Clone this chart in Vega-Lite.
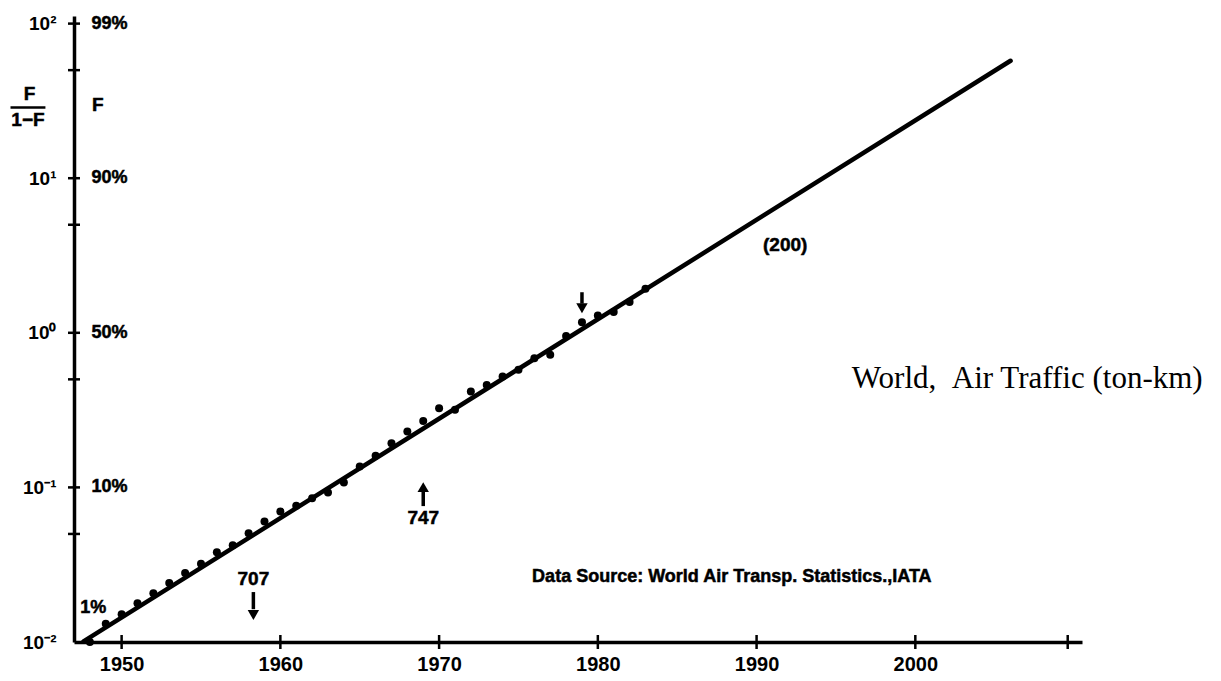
{
  "$schema": "https://vega.github.io/schema/vega-lite/v6.json",
  "width": 1008,
  "height": 626,
  "autosize": {"type": "none"},
  "padding": {"left": 74, "top": 16, "right": 139, "bottom": 39},
  "background": "white",
  "config": {
    "view": {"stroke": null},
    "axis": {"grid": false, "ticks": false, "domainColor": "black", "domainWidth": 3.5, "domainCap": "butt", "labelColor": "black", "labelFont": "Liberation Sans", "labelFontWeight": "bold", "labelFontSize": 19},
    "text": {"font": "Liberation Sans", "fontWeight": "bold", "color": "black", "stroke": "black", "strokeWidth": 0.5}
  },
  "datasets": {
    "fit": [{"year": 1947.6, "ratio": 0.0101}, {"year": 2006.0, "ratio": 57.5}],
    "obs": [
      {"year": 1948, "ratio": 0.0100}, {"year": 1949, "ratio": 0.0131}, {"year": 1950, "ratio": 0.0151},
      {"year": 1951, "ratio": 0.0178}, {"year": 1952, "ratio": 0.0207}, {"year": 1953, "ratio": 0.0241},
      {"year": 1954, "ratio": 0.0279}, {"year": 1955, "ratio": 0.0321}, {"year": 1956, "ratio": 0.0380},
      {"year": 1957, "ratio": 0.0422}, {"year": 1958, "ratio": 0.0505}, {"year": 1959, "ratio": 0.0602},
      {"year": 1960, "ratio": 0.0698}, {"year": 1961, "ratio": 0.0760}, {"year": 1962, "ratio": 0.0851},
      {"year": 1963, "ratio": 0.0927}, {"year": 1964, "ratio": 0.1075}, {"year": 1965, "ratio": 0.1365},
      {"year": 1966, "ratio": 0.160}, {"year": 1967, "ratio": 0.193}, {"year": 1968, "ratio": 0.230},
      {"year": 1969, "ratio": 0.269}, {"year": 1970, "ratio": 0.325}, {"year": 1971, "ratio": 0.318},
      {"year": 1972, "ratio": 0.417}, {"year": 1973, "ratio": 0.460}, {"year": 1974, "ratio": 0.522},
      {"year": 1975, "ratio": 0.576}, {"year": 1976, "ratio": 0.685}, {"year": 1977, "ratio": 0.720},
      {"year": 1978, "ratio": 0.955}, {"year": 1979, "ratio": 1.170}, {"year": 1980, "ratio": 1.295},
      {"year": 1981, "ratio": 1.362}, {"year": 1982, "ratio": 1.583}, {"year": 1983, "ratio": 1.93}
    ],
    "yticks": [{"ratio": 0.05}, {"ratio": 0.1}, {"ratio": 0.5}, {"ratio": 1}, {"ratio": 5}, {"ratio": 10}, {"ratio": 50}, {"ratio": 100}],
    "xticks": [{"year": 1950}, {"year": 1960}, {"year": 1970}, {"year": 1980}, {"year": 1990}, {"year": 2000}, {"year": 2009.6}],
    "arrows": [
      {"year": 1958.3, "top": 0.02104, "bot": 0.0163, "head": 0.01494, "dir": "down"},
      {"year": 1969.0, "top": 0.0950, "bot": 0.0757, "head": 0.1004, "dir": "up"},
      {"year": 1979.0, "top": 1.830, "bot": 1.545, "head": 1.442, "dir": "down"}
    ],
    "notes": [
      {"year": 1948.1, "ratio": 100, "t": "99%", "kind": "pct"},
      {"year": 1948.1, "ratio": 10, "t": "90%", "kind": "pct"},
      {"year": 1948.1, "ratio": 1, "t": "50%", "kind": "pct"},
      {"year": 1948.1, "ratio": 0.1, "t": "10%", "kind": "pct"},
      {"year": 1947.4, "ratio": 0.0166, "t": "1%", "kind": "pct"},
      {"year": 1948.5, "ratio": 29.8, "t": "F", "kind": "mid"},
      {"year": 1944.2, "ratio": 34.8, "t": "F", "kind": "frac"},
      {"year": 1944.1, "ratio": 23.7, "t": "1−F", "kind": "frac"},
      {"year": 1958.3, "ratio": 0.0255, "t": "707", "kind": "mid"},
      {"year": 1969.0, "ratio": 0.0633, "t": "747", "kind": "mid"},
      {"year": 1991.8, "ratio": 3.68, "t": "(200)", "kind": "mid"},
      {"year": 1975.86, "ratio": 0.0263, "t": "Data Source: World Air Transp. Statistics.,IATA", "kind": "src"}
    ],
    "title": [{"year": 1996.0, "ratio": 0.4385, "t": "World,\u00a0\u00a0Air Traffic (ton-km)"}],
    "bar": [{"year": 1943.0, "year2": 1945.2, "ratio": 28.7}]
  },
  "layer": [
    {
      "data": {"name": "fit"},
      "mark": {"type": "line", "color": "black", "strokeWidth": 4.5, "strokeCap": "round"},
      "encoding": {
        "x": {"field": "year", "type": "quantitative", "title": null,
              "scale": {"domain": [1947, 2010.5], "nice": false, "zero": false},
              "axis": {"values": [1950, 1960, 1970, 1980, 1990, 2000], "format": "d", "labelPadding": 12, "labelBaseline": "top", "labelFontSize": 20}},
        "y": {"field": "ratio", "type": "quantitative", "title": null,
              "scale": {"type": "log", "domain": [0.01, 112], "nice": false},
              "axis": {"values": [0.01, 0.1, 1, 10, 100], "labelPadding": 18, "labelAlign": "right", "labelBaseline": "middle",
                       "labelExpr": "datum.value > 50 ? '10²' : datum.value > 5 ? '10¹' : datum.value > 0.5 ? '10⁰' : datum.value > 0.05 ? '10⁻¹' : '10⁻²'"}}
      }
    },
    {
      "data": {"name": "obs"},
      "mark": {"type": "circle", "color": "black", "size": 64, "opacity": 1},
      "encoding": {
        "x": {"field": "year", "type": "quantitative", "title": null},
        "y": {"field": "ratio", "type": "quantitative", "title": null}
      }
    },
    {
      "data": {"name": "yticks"},
      "mark": {"type": "tick", "orient": "horizontal", "color": "black", "size": 12, "thickness": 2.5, "opacity": 1},
      "encoding": {
        "x": {"datum": 1947, "type": "quantitative"},
        "y": {"field": "ratio", "type": "quantitative", "title": null}
      }
    },
    {
      "data": {"name": "xticks"},
      "mark": {"type": "tick", "orient": "vertical", "color": "black", "size": 14, "thickness": 2.5, "opacity": 1},
      "encoding": {
        "x": {"field": "year", "type": "quantitative", "title": null},
        "y": {"datum": 0.01, "type": "quantitative"}
      }
    },
    {
      "data": {"name": "arrows"},
      "mark": {"type": "rule", "color": "black", "strokeWidth": 3.5},
      "encoding": {
        "x": {"field": "year", "type": "quantitative", "title": null},
        "y": {"field": "top", "type": "quantitative", "title": null},
        "y2": {"field": "bot"}
      }
    },
    {
      "data": {"name": "arrows"},
      "transform": [{"filter": "datum.dir == 'down'"}],
      "mark": {"type": "point", "shape": "triangle-down", "filled": true, "color": "black", "size": 130, "opacity": 1},
      "encoding": {
        "x": {"field": "year", "type": "quantitative", "title": null},
        "y": {"field": "head", "type": "quantitative", "title": null}
      }
    },
    {
      "data": {"name": "arrows"},
      "transform": [{"filter": "datum.dir == 'up'"}],
      "mark": {"type": "point", "shape": "triangle-up", "filled": true, "color": "black", "size": 130, "opacity": 1},
      "encoding": {
        "x": {"field": "year", "type": "quantitative", "title": null},
        "y": {"field": "head", "type": "quantitative", "title": null}
      }
    },
    {
      "data": {"name": "bar"},
      "mark": {"type": "rule", "color": "black", "strokeWidth": 2.5},
      "encoding": {
        "x": {"field": "year", "type": "quantitative", "title": null},
        "x2": {"field": "year2"},
        "y": {"field": "ratio", "type": "quantitative", "title": null}
      }
    },
    {
      "data": {"name": "notes"},
      "transform": [{"filter": "datum.kind == 'pct'"}],
      "mark": {"type": "text", "align": "left", "baseline": "middle", "fontSize": 18},
      "encoding": {
        "x": {"field": "year", "type": "quantitative", "title": null},
        "y": {"field": "ratio", "type": "quantitative", "title": null},
        "text": {"field": "t"}
      }
    },
    {
      "data": {"name": "notes"},
      "transform": [{"filter": "datum.kind == 'mid' || datum.kind == 'frac'"}],
      "mark": {"type": "text", "align": "center", "baseline": "middle", "fontSize": 19},
      "encoding": {
        "x": {"field": "year", "type": "quantitative", "title": null},
        "y": {"field": "ratio", "type": "quantitative", "title": null},
        "text": {"field": "t"}
      }
    },
    {
      "data": {"name": "notes"},
      "transform": [{"filter": "datum.kind == 'src'"}],
      "mark": {"type": "text", "align": "left", "baseline": "middle", "fontSize": 18},
      "encoding": {
        "x": {"field": "year", "type": "quantitative", "title": null},
        "y": {"field": "ratio", "type": "quantitative", "title": null},
        "text": {"field": "t"}
      }
    },
    {
      "data": {"name": "title"},
      "mark": {"type": "text", "align": "left", "baseline": "alphabetic", "fontSize": 31, "font": "Liberation Serif", "fontWeight": "normal", "strokeWidth": 0},
      "encoding": {
        "x": {"field": "year", "type": "quantitative", "title": null},
        "y": {"field": "ratio", "type": "quantitative", "title": null},
        "text": {"field": "t"}
      }
    }
  ]
}
